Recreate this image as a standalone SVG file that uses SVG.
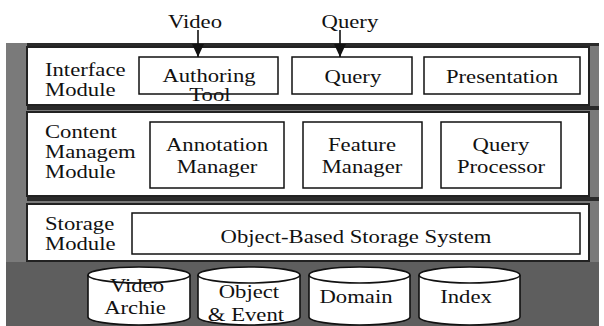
<svg xmlns="http://www.w3.org/2000/svg" width="604" height="326" viewBox="0 0 604 326" font-family="'Liberation Serif', 'Times New Roman', serif">
<style>
text{font-size:18px;fill:#111;transform-box:fill-box;transform-origin:50% 50%;transform:scaleX(1.26)}
.c{text-anchor:middle}
.l{transform-origin:0% 50%}
.band{fill:#fff;stroke:#222;stroke-width:2}
.box{fill:#fff;stroke:#111;stroke-width:1.5}
.cyl{fill:#fff;stroke:#111;stroke-width:1.6}
.conn{stroke:#111;stroke-width:1.6;fill:none}
.sep{fill:#2a2a2a}
</style>
<defs>
<marker id="ah" markerUnits="userSpaceOnUse" markerWidth="14" markerHeight="14" viewBox="0 0 14 14" refX="13" refY="7" orient="auto">
<path d="M0,1 L13,7 L0,13 Z" fill="#111"/>
</marker>
</defs>
<rect id="backdrop" x="6" y="43" width="593" height="283" fill="#7a7a7a"/>
<rect x="6" y="262" width="593" height="64" fill="#5e5e5e"/>
<rect class="sep" x="27" y="43" width="572" height="3"/>
<rect class="sep" x="27" y="106" width="572" height="4"/>
<rect class="sep" x="27" y="197" width="572" height="4"/>
<g id="interface-layer">
<rect class="band" x="27" y="47" width="562" height="58"/>
<text class="l" x="45" y="76">Interface</text>
<text class="l" x="45" y="96">Module</text>
</g>
<g id="content-layer">
<rect class="band" x="27" y="112" width="562" height="84"/>
<text class="l" x="45" y="138">Content</text>
<text class="l" x="45" y="158">Managem</text>
<text class="l" x="45" y="178">Module</text>
</g>
<g id="storage-layer">
<rect class="band" x="27" y="204" width="562" height="57"/>
<text class="l" x="45" y="230">Storage</text>
<text class="l" x="45" y="250">Module</text>
</g>
<g id="authoring-tool">
<rect class="box" x="139" y="57" width="139" height="37"/>
<text class="c" x="209" y="82">Authoring</text>
<text class="c" x="210" y="101">Tool</text>
</g>
<g id="query">
<rect class="box" x="292" y="57" width="120" height="37"/>
<text class="c" x="353" y="83">Query</text>
</g>
<g id="presentation">
<rect class="box" x="424" y="57" width="156" height="37"/>
<text class="c" x="502" y="83">Presentation</text>
</g>
<g id="annotation-manager">
<rect class="box" x="150" y="122" width="134" height="66"/>
<text class="c" x="217" y="151">Annotation</text>
<text class="c" x="217" y="173">Manager</text>
</g>
<g id="feature-manager">
<rect class="box" x="303" y="122" width="119" height="66"/>
<text class="c" x="362" y="151">Feature</text>
<text class="c" x="362" y="173">Manager</text>
</g>
<g id="query-processor">
<rect class="box" x="441" y="122" width="120" height="66"/>
<text class="c" x="501" y="151">Query</text>
<text class="c" x="501" y="173">Processor</text>
</g>
<g id="object-storage">
<rect class="box" x="132" y="213" width="448" height="41"/>
<text class="c" x="356" y="243">Object-Based Storage System</text>
</g>
<g id="video-archive">
<path class="cyl" d="M88,275 A51,8 0 0 1 190,275 L190,317 A51,8 0 0 1 88,317 Z"/>
<path class="cyl" fill="none" d="M88,275 A51,8 0 0 0 190,275"/>
<text class="c" x="137" y="292">Video</text>
<text class="c" x="135" y="314">Archie</text>
</g>
<g id="object-event">
<path class="cyl" d="M198,275 A51,8 0 0 1 300,275 L300,317 A51,8 0 0 1 198,317 Z"/>
<path class="cyl" fill="none" d="M198,275 A51,8 0 0 0 300,275"/>
<text class="c" x="249" y="298">Object</text>
<text class="c" x="246" y="321">&amp; Event</text>
</g>
<g id="domain">
<path class="cyl" d="M309,275 A50.5,8 0 0 1 410,275 L410,317 A50.5,8 0 0 1 309,317 Z"/>
<path class="cyl" fill="none" d="M309,275 A50.5,8 0 0 0 410,275"/>
<text class="c" x="356" y="303">Domain</text>
</g>
<g id="index">
<path class="cyl" d="M419,275 A50.5,8 0 0 1 520,275 L520,317 A50.5,8 0 0 1 419,317 Z"/>
<path class="cyl" fill="none" d="M419,275 A50.5,8 0 0 0 520,275"/>
<text class="c" x="466" y="303">Index</text>
</g>
<g id="inputs">
<text class="c" x="195" y="28">Video</text>
<text class="c" x="350" y="28">Query</text>
</g>
<g id="connectors">
<line class="conn" x1="198" y1="30" x2="198" y2="57" marker-end="url(#ah)"/>
<line class="conn" x1="340" y1="30" x2="340" y2="57" marker-end="url(#ah)"/>
</g>
</svg>
